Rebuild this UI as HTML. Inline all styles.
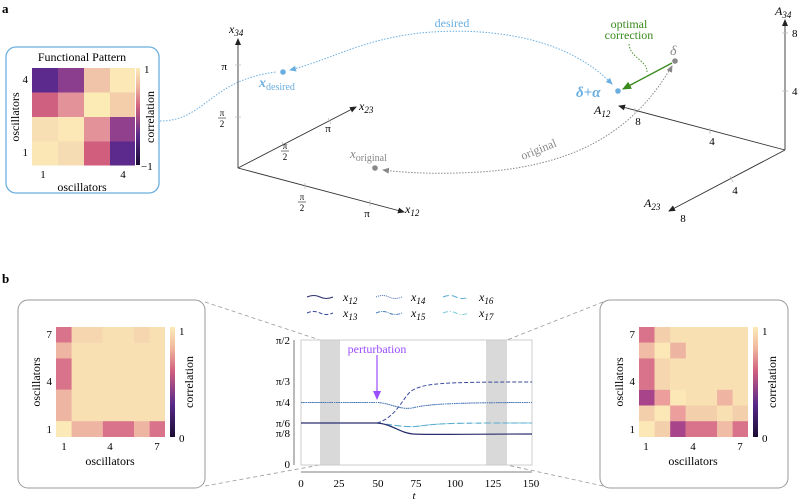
<!DOCTYPE html>
<html><head><meta charset="utf-8"><style>
body{margin:0;background:#fff}
svg{display:block;font-family:"Liberation Serif",serif}
.it{font-style:italic}
</style></head><body>
<svg width="800" height="502" viewBox="0 0 800 502" xmlns="http://www.w3.org/2000/svg">
<defs>
<marker id="ak" markerWidth="8" markerHeight="8" refX="6" refY="3" orient="auto" markerUnits="userSpaceOnUse"><path d="M0,0 L7,3 L0,6 z" fill="#222"/></marker>
<marker id="ab" markerWidth="8" markerHeight="8" refX="6" refY="3" orient="auto" markerUnits="userSpaceOnUse"><path d="M0,0 L7,3 L0,6 z" fill="#6aaee0"/></marker>
<marker id="ag" markerWidth="8" markerHeight="8" refX="6" refY="3" orient="auto" markerUnits="userSpaceOnUse"><path d="M0,0 L7,3 L0,6 z" fill="#888"/></marker>
<marker id="agr" markerWidth="10" markerHeight="10" refX="8" refY="4" orient="auto" markerUnits="userSpaceOnUse"><path d="M0,0 L9,4 L0,8 z" fill="#3a8a1e"/></marker>
<marker id="ap" markerWidth="10" markerHeight="10" refX="8" refY="4" orient="auto" markerUnits="userSpaceOnUse"><path d="M0,0 L9,4 L0,8 z" fill="#9b4dff"/></marker>
<linearGradient id="cb1" x1="0" y1="1" x2="0" y2="0"><stop offset="0" stop-color="#1a0c33"/><stop offset="0.3" stop-color="#5a2a8a"/><stop offset="0.6" stop-color="#d0607f"/><stop offset="0.8" stop-color="#f0b49c"/><stop offset="1" stop-color="#fcebb8"/></linearGradient>
</defs>

<text x="2" y="13" font-weight="bold" font-size="13">a</text>

<rect x="6" y="47" width="153" height="146" rx="10" fill="none" stroke="#6aaee0" stroke-width="1.3"/>
<text x="82" y="61" font-size="12" text-anchor="middle">Functional Pattern</text>
<g>
<rect x="32" y="68" width="26" height="24.5" fill="#5c2a8c"/><rect x="58" y="68" width="26" height="24.5" fill="#8b3d8e"/><rect x="84" y="68" width="26" height="24.5" fill="#f0c4a8"/><rect x="110" y="68" width="25" height="24.5" fill="#fbe8b6"/>
<rect x="32" y="92.5" width="26" height="24.5" fill="#d0607f"/><rect x="58" y="92.5" width="26" height="24.5" fill="#e3929a"/><rect x="84" y="92.5" width="26" height="24.5" fill="#fcebb5"/><rect x="110" y="92.5" width="25" height="24.5" fill="#f4cdaa"/>
<rect x="32" y="117" width="26" height="24.5" fill="#f8dfb3"/><rect x="58" y="117" width="26" height="24.5" fill="#fbe8b6"/><rect x="84" y="117" width="26" height="24.5" fill="#e3929a"/><rect x="110" y="117" width="25" height="24.5" fill="#90408c"/>
<rect x="32" y="141.5" width="26" height="24" fill="#fbe6b6"/><rect x="58" y="141.5" width="26" height="24" fill="#f6dcb2"/><rect x="84" y="141.5" width="26" height="24" fill="#d25e7e"/><rect x="110" y="141.5" width="25" height="24" fill="#5c2a8c"/>
</g>
<rect x="136" y="68" width="4" height="97" fill="url(#cb1)"/>
<text x="144" y="73" font-size="11">1</text><text x="141" y="170" font-size="11">−1</text>
<text x="28" y="83" font-size="11" text-anchor="end">4</text><text x="28" y="156" font-size="11" text-anchor="end">1</text>
<text x="43" y="178" font-size="11" text-anchor="middle">1</text><text x="123" y="178" font-size="11" text-anchor="middle">4</text>
<text x="82" y="191" font-size="12" text-anchor="middle">oscillators</text>
<text transform="translate(19,117) rotate(-90)" font-size="12" text-anchor="middle">oscillators</text>
<text transform="translate(154,117) rotate(-90)" font-size="12" text-anchor="middle">correlation</text>

<path d="M160,121 C205,121 210,80 276,72" fill="none" stroke="#6aaee0" stroke-width="1" stroke-dasharray="1.5,1.5"/>

<g stroke="#333" stroke-width="0.9" fill="none">
<line x1="238" y1="168" x2="238" y2="39" marker-end="url(#ak)"/>
<line x1="238" y1="168" x2="356" y2="107" marker-end="url(#ak)"/>
<line x1="238" y1="168" x2="404" y2="212" marker-end="url(#ak)"/>
</g>
<g stroke="#bbb" stroke-width="0.8">
<line x1="235" y1="65" x2="241" y2="65"/><line x1="235" y1="117" x2="241" y2="117"/>
<line x1="282" y1="142" x2="285" y2="148"/><line x1="328" y1="118" x2="331" y2="124"/>
<line x1="305" y1="183" x2="305" y2="189"/><line x1="370" y1="200" x2="370" y2="206"/>
</g>
<text x="229" y="33" font-size="12" class="it">x<tspan font-size="9" dy="3">34</tspan></text>
<text x="227" y="70" font-size="11" text-anchor="end">π</text>
<text x="222" y="116" font-size="9" text-anchor="middle">π</text><line x1="218" y1="118" x2="226" y2="118" stroke="#222" stroke-width="0.6"/><text x="222" y="127" font-size="9" text-anchor="middle">2</text>
<text x="359" y="110" font-size="12" class="it">x<tspan font-size="9" dy="3">23</tspan></text>
<text x="328" y="132" font-size="11" text-anchor="middle">π</text>
<text x="285" y="149" font-size="9" text-anchor="middle">π</text><line x1="281" y1="151" x2="289" y2="151" stroke="#222" stroke-width="0.6"/><text x="285" y="160" font-size="9" text-anchor="middle">2</text>
<text x="405" y="213" font-size="12" class="it">x<tspan font-size="9" dy="3">12</tspan></text>
<text x="302" y="200" font-size="9" text-anchor="middle">π</text><line x1="298" y1="202" x2="306" y2="202" stroke="#222" stroke-width="0.6"/><text x="302" y="211" font-size="9" text-anchor="middle">2</text>
<text x="367" y="217" font-size="11" text-anchor="middle">π</text>

<circle cx="283" cy="72" r="2.8" fill="#6aaee0"/>
<text x="259" y="87" font-size="14" fill="#6aaee0" font-weight="bold" class="it">x<tspan font-size="10" dy="3" font-weight="normal" font-style="normal">desired</tspan></text>
<circle cx="375" cy="168" r="2.8" fill="#888"/>
<text x="350" y="158" font-size="13" fill="#888" class="it">x<tspan font-size="10" dy="3" font-style="normal">original</tspan></text>

<path d="M612,84 C560,30 470,28 420,33 C360,40 330,60 290,70" fill="none" stroke="#6aaee0" stroke-width="1" stroke-dasharray="1.5,1.5" marker-end="url(#ab)"/>
<path d="M560,45 C590,60 600,72 612,84" fill="none" stroke="none" marker-end="url(#ab)"/>
<text x="452" y="27" font-size="12" fill="#6aaee0" text-anchor="middle">desired</text>
<path d="M672,66 C640,120 590,165 480,172 C430,175 400,172 383,170" fill="none" stroke="#888" stroke-width="1" stroke-dasharray="1.5,1.5" marker-end="url(#ag)"/>
<path d="M660,85 C665,78 669,72 672,66" fill="none" stroke="none" marker-end="url(#ag)"/>
<text transform="translate(540,153) rotate(-22)" font-size="12" fill="#888" text-anchor="middle">original</text>

<circle cx="618" cy="91" r="2.8" fill="#6aaee0"/>
<text x="576" y="97" font-size="15" fill="#6aaee0" font-weight="bold" class="it">δ+α</text>
<circle cx="675" cy="61" r="2.8" fill="#888"/>
<text x="670" y="55" font-size="14" fill="#888" class="it">δ</text>
<line x1="672" y1="63" x2="623" y2="89" stroke="#3a8a1e" stroke-width="1.4" marker-end="url(#agr)"/>
<text x="629" y="28" font-size="12" fill="#3a8a1e" text-anchor="middle">optimal</text>
<text x="629" y="39" font-size="12" fill="#3a8a1e" text-anchor="middle">correction</text>
<path d="M629,44 C630,58 647,60 647,72" fill="none" stroke="#3a8a1e" stroke-width="0.9" stroke-dasharray="1.5,1.5"/>

<g stroke="#333" stroke-width="0.9" fill="none">
<line x1="785" y1="150" x2="785" y2="20" marker-end="url(#ak)"/>
<line x1="785" y1="150" x2="619" y2="106" marker-end="url(#ak)"/>
<line x1="785" y1="150" x2="669" y2="211" marker-end="url(#ak)"/>
</g>
<g stroke="#bbb" stroke-width="0.8">
<line x1="782" y1="33" x2="788" y2="33"/><line x1="782" y1="91" x2="788" y2="91"/>
<line x1="635" y1="108" x2="635" y2="114"/><line x1="710" y1="128" x2="710" y2="134"/>
<line x1="730" y1="176" x2="733" y2="182"/>
</g>
<text x="775" y="15" font-size="12" class="it">A<tspan font-size="9" dy="3">34</tspan></text>
<text x="792" y="37" font-size="11">8</text><text x="792" y="95" font-size="11">4</text>
<text x="594" y="114" font-size="12" class="it">A<tspan font-size="9" dy="3">12</tspan></text>
<text x="638" y="125" font-size="11" text-anchor="middle">8</text><text x="712" y="145" font-size="11" text-anchor="middle">4</text>
<text x="644" y="207" font-size="12" class="it">A<tspan font-size="9" dy="3">23</tspan></text>
<text x="735" y="194" font-size="11" text-anchor="middle">4</text><text x="683" y="222" font-size="11" text-anchor="middle">8</text>

<text x="2" y="283" font-weight="bold" font-size="13">b</text>

<g stroke="#999" stroke-width="0.8" stroke-dasharray="4,3" fill="none">
<line x1="205" y1="302" x2="320" y2="340"/><line x1="205" y1="486" x2="320" y2="465"/>
<line x1="603" y1="302" x2="507" y2="340"/><line x1="603" y1="486" x2="507" y2="465"/>
</g>

<rect x="18" y="300" width="187" height="188" rx="10" fill="#fff" stroke="#999" stroke-width="1"/>
<g>
<rect x="56" y="327" width="109" height="110" fill="#f8e0b3"/>
<rect x="71.6" y="327" width="31" height="15.7" fill="#f5d6ae"/><rect x="134" y="327" width="15.6" height="15.7" fill="#f5d6ae"/>
<rect x="56" y="327" width="15.6" height="15.7" fill="#d9738b"/>
<rect x="56" y="342.7" width="15.6" height="15.7" fill="#eeb5a2"/>
<rect x="56" y="358.4" width="15.6" height="31.4" fill="#d9738b"/>
<rect x="56" y="389.8" width="15.6" height="31.4" fill="#eeb5a2"/>
<rect x="56" y="421.2" width="15.6" height="15.8" fill="#fbe9b7"/>
<rect x="71.6" y="421.2" width="31.2" height="15.8" fill="#eeb5a2"/>
<rect x="102.8" y="421.2" width="31.2" height="15.8" fill="#d9738b"/>
<rect x="134" y="421.2" width="15.6" height="15.8" fill="#eeb5a2"/>
<rect x="149.6" y="421.2" width="15.4" height="15.8" fill="#d9738b"/>
</g>
<rect x="170" y="327" width="5" height="110" fill="url(#cb1)"/>
<text x="179" y="335" font-size="11">1</text><text x="179" y="442" font-size="11">0</text>
<text x="52" y="338" font-size="11" text-anchor="end">7</text><text x="52" y="385" font-size="11" text-anchor="end">4</text><text x="52" y="433" font-size="11" text-anchor="end">1</text>
<text x="64" y="450" font-size="11" text-anchor="middle">1</text><text x="110" y="450" font-size="11" text-anchor="middle">4</text><text x="157" y="450" font-size="11" text-anchor="middle">7</text>
<text x="110" y="465" font-size="12" text-anchor="middle">oscillators</text>
<text transform="translate(40,382) rotate(-90)" font-size="12" text-anchor="middle">oscillators</text>
<text transform="translate(193,382) rotate(-90)" font-size="12" text-anchor="middle">correlation</text>

<rect x="600" y="300" width="188" height="188" rx="10" fill="#fff" stroke="#999" stroke-width="1"/>
<g>
<rect x="639" y="327" width="109" height="110" fill="#f8e0b3"/>
<rect x="639" y="327" width="15.6" height="15.7" fill="#d9738b"/><rect x="654.6" y="327" width="15.6" height="15.7" fill="#f4cfab"/>
<rect x="639" y="342.7" width="15.6" height="15.7" fill="#f0bca5"/><rect x="654.6" y="342.7" width="15.6" height="15.7" fill="#fbe8b6"/><rect x="670.2" y="342.7" width="15.6" height="15.7" fill="#eeb4a2"/>
<rect x="639" y="358.4" width="15.6" height="31.4" fill="#d9738b"/><rect x="654.6" y="358.4" width="15.6" height="31.4" fill="#f5d6ae"/>
<rect x="639" y="389.8" width="15.6" height="15.7" fill="#a8448a"/><rect x="654.6" y="389.8" width="15.6" height="15.7" fill="#ec9e9c"/><rect x="670.2" y="389.8" width="15.6" height="15.7" fill="#fbe8b6"/><rect x="717" y="389.8" width="15.6" height="15.7" fill="#efb4a2"/>
<rect x="639" y="405.5" width="15.6" height="15.7" fill="#f4cfab"/><rect x="654.6" y="405.5" width="15.6" height="15.7" fill="#fbe8b6"/><rect x="670.2" y="405.5" width="15.6" height="15.7" fill="#ec9e9c"/><rect x="685.8" y="405.5" width="31.2" height="15.7" fill="#f4cfab"/><rect x="732.6" y="405.5" width="15.4" height="15.7" fill="#f4cfab"/>
<rect x="639" y="421.2" width="15.6" height="15.8" fill="#fbe8b6"/><rect x="654.6" y="421.2" width="15.6" height="15.8" fill="#f4cfab"/><rect x="670.2" y="421.2" width="15.6" height="15.8" fill="#a8448a"/><rect x="685.8" y="421.2" width="31.2" height="15.8" fill="#d9738b"/><rect x="717" y="421.2" width="15.6" height="15.8" fill="#f0bca5"/><rect x="732.6" y="421.2" width="15.4" height="15.8" fill="#d9738b"/>
</g>
<rect x="753" y="327" width="5" height="110" fill="url(#cb1)"/>
<text x="762" y="335" font-size="11">1</text><text x="762" y="442" font-size="11">0</text>
<text x="635" y="338" font-size="11" text-anchor="end">7</text><text x="635" y="385" font-size="11" text-anchor="end">4</text><text x="635" y="433" font-size="11" text-anchor="end">1</text>
<text x="646" y="450" font-size="11" text-anchor="middle">1</text><text x="693" y="450" font-size="11" text-anchor="middle">4</text><text x="740" y="450" font-size="11" text-anchor="middle">7</text>
<text x="693" y="465" font-size="12" text-anchor="middle">oscillators</text>
<text transform="translate(623,382) rotate(-90)" font-size="12" text-anchor="middle">oscillators</text>
<text transform="translate(776,382) rotate(-90)" font-size="12" text-anchor="middle">correlation</text>

<g fill="none" stroke-width="1">
<path d="M307,297 q7,-3 13,0 t13,0" stroke="#2a2e6e"/>
<path d="M307,313 q7,-3 13,0 t13,0" stroke="#3a4a9a" stroke-dasharray="4,2"/>
<path d="M376,297 q7,-3 13,0 t13,0" stroke="#4a6ab0" stroke-dasharray="1,1"/>
<path d="M376,313 q7,-3 13,0 t13,0" stroke="#4a80b8" stroke-dasharray="4,1,1,1"/>
<path d="M443,297 q7,-3 13,0 t13,0" stroke="#5aaad0" stroke-dasharray="6,3"/>
<path d="M443,313 q7,-3 13,0 t13,0" stroke="#7ccad8" stroke-dasharray="5,2,1,2"/>
</g>
<g font-size="12" class="it">
<text x="343" y="301">x<tspan font-size="9" dy="3">12</tspan></text>
<text x="343" y="317">x<tspan font-size="9" dy="3">13</tspan></text>
<text x="411" y="301">x<tspan font-size="9" dy="3">14</tspan></text>
<text x="411" y="317">x<tspan font-size="9" dy="3">15</tspan></text>
<text x="479" y="301">x<tspan font-size="9" dy="3">16</tspan></text>
<text x="479" y="317">x<tspan font-size="9" dy="3">17</tspan></text>
</g>

<rect x="301" y="340" width="231" height="125" fill="#fff" stroke="#ccc" stroke-width="1"/>
<rect x="320" y="340.5" width="20" height="124" fill="#d9d9d9"/>
<rect x="486" y="340.5" width="21" height="124" fill="#d9d9d9"/>
<g fill="none" stroke-width="1">
<path d="M301,402.5 H377 C390,403 400,410 412,408 C425,405 440,402.5 532,402.5" stroke="#4a6ab0" stroke-dasharray="1.2,1"/>
<path d="M301,402.5 H377 C390,403 400,410 412,408 C425,405 440,402.5 532,402.5" stroke="#4a80b8" stroke-dasharray="4,1,1,1" stroke-opacity="0.6"/>
<path d="M377,423 C395,425 405,428 420,426 C440,423 460,423 532,423" stroke="#7ccad8" stroke-dasharray="5,2,1,2"/>
<path d="M377,423 C395,425 405,428 420,426 C440,423 460,423 532,423" stroke="#5aaad0" stroke-dasharray="6,3"/>
<path d="M377,423 C395,418 402,400 410,392 C422,383 440,382 532,382" stroke="#3a4a9a" stroke-dasharray="4,2"/>
<path d="M301,423 H377 C392,424 400,433 413,434 C430,435 460,434 532,434" stroke="#2a2e6e" stroke-width="1.2"/>
</g>
<line x1="377" y1="355" x2="377" y2="399" stroke="#9b4dff" stroke-width="1.2" marker-end="url(#ap)"/>
<text x="377" y="353" font-size="12" fill="#9b4dff" text-anchor="middle">perturbation</text>
<g stroke="#555" stroke-width="0.8">
<line x1="294" y1="340" x2="294" y2="465"/>
<line x1="301" y1="472" x2="532" y2="472"/>
</g>
<g font-size="11" text-anchor="end">
<text x="290" y="344">π/2</text><text x="290" y="385">π/3</text><text x="290" y="406">π/4</text><text x="290" y="427">π/6</text><text x="290" y="437">π/8</text><text x="290" y="468">0</text>
</g>
<g font-size="11" text-anchor="middle">
<text x="301" y="487">0</text><text x="339" y="487">25</text><text x="378" y="487">50</text><text x="416" y="487">75</text><text x="455" y="487">100</text><text x="493" y="487">125</text><text x="531" y="487">150</text>
<text x="414" y="499" class="it">t</text>
</g>
</svg>
</body></html>
